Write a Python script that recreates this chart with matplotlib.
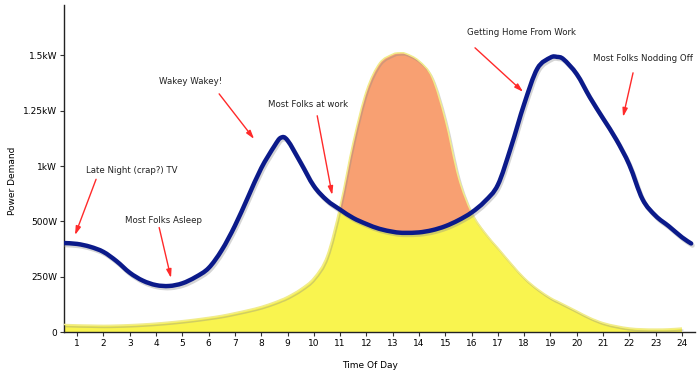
import matplotlib
matplotlib.use('Agg')
import matplotlib.pyplot as plt
import matplotlib.patheffects as pe
from matplotlib.path import Path
from matplotlib.patches import PathPatch
import numpy as np

# hour of day, shared by both series
hours = [0.5, 1, 1.5, 2, 2.5, 3, 3.5, 4, 4.5, 5, 5.5, 6, 6.5, 7, 7.5, 8, 8.5, 8.75,
         9, 9.5, 10, 10.5, 11, 11.5, 12, 12.5, 13, 13.25, 13.5, 14, 14.5, 15, 15.5,
         16, 16.5, 17, 17.5, 18, 18.5, 19, 19.25, 19.5, 20, 20.5, 21, 21.5, 22, 22.5,
         23, 23.5, 24, 24.35]

# household demand (W on the chart's own scale)
demand = [402, 398, 385, 362, 320, 268, 232, 212, 208, 220, 248, 289, 370, 480, 610,
          740, 840, 878, 866, 765, 660, 595, 553, 515, 488, 466, 453, 449, 448, 450,
          460, 478, 505, 540, 590, 665, 836, 1030, 1190, 1240, 1243, 1232, 1165, 1060,
          965, 870, 755, 600, 525, 478, 428, 400]

# generation curve
supply = [34, 32, 31, 30, 31, 33, 36, 40, 45, 51, 58, 66, 75, 87, 100, 115, 135, 147,
          160, 195, 245, 345, 570, 860, 1090, 1215, 1255, 1261, 1258, 1225, 1150, 960,
          700, 540, 450, 380, 310, 245, 195, 155, 140, 125, 95, 65, 42, 28, 18, 14, 13,
          14, 18, np.nan]

ytick_pos = [0, 250, 500, 750, 1000, 1250]
ytick_labels = ['0', '250W', '500W', '1kW', '1.25kW', '1.5kW']
xtick_labels = list(range(1, 25))

notes = ['Late Night (crap?) TV', 'Most Folks Asleep', 'Wakey Wakey!',
         'Most Folks at work', 'Getting Home From Work', 'Most Folks Nodding Off']


def smooth(x, y):
    # Catmull-Rom through the points, drawn as cubic bezier segments
    p = np.column_stack([x, y])
    ext = np.vstack([p[0], p, p[-1]])
    verts = [p[0]]
    codes = [Path.MOVETO]
    for i in range(len(p) - 1):
        p0, p1, p2, p3 = ext[i], ext[i + 1], ext[i + 2], ext[i + 3]
        verts += [p1 + (p2 - p0) / 6, p2 - (p3 - p1) / 6, p2]
        codes += [Path.CURVE4] * 3
    return verts, codes


h = np.array(hours)
d = np.array(demand, dtype=float)
s = np.array(supply, dtype=float)
ok = ~np.isnan(s)

fig = plt.figure(figsize=(7, 3.76), dpi=100)
ax = fig.add_axes([0.0914, 0.117, 0.9016, 0.87])

dv, dc = smooth(h, d)
sv, sc = smooth(h[ok], s[ok])

# area under supply curve
area_v = sv + [(h[ok][-1], 0), (h[ok][0], 0), (h[ok][0], 0)]
area_c = sc + [Path.LINETO, Path.LINETO, Path.CLOSEPOLY]
area = Path(area_v, area_c)
ax.add_patch(PathPatch(area, facecolor='#f9f44f', lw=0, zorder=1))

# part of it above demand curve
above = Path(dv + [(h[-1], 3000), (h[0], 3000), (h[0], 3000)],
             dc + [Path.LINETO, Path.LINETO, Path.CLOSEPOLY])
orange = PathPatch(area, facecolor='#f8a072', lw=0, zorder=2)
ax.add_patch(orange)
orange.set_clip_path(above, ax.transData)

shadow = [pe.SimpleLineShadow(offset=(1, -1.5), shadow_color='#888888', alpha=0.35), pe.Normal()]
ax.add_patch(PathPatch(Path(sv, sc), fill=False, edgecolor='#f1ec8c', lw=1.1, zorder=3,
                       path_effects=shadow))
ax.add_patch(PathPatch(Path(dv, dc), fill=False, edgecolor='#0b1a8a', lw=3.2,
                       capstyle='round', joinstyle='round', zorder=4, path_effects=shadow))

# annotations: text corner, arrow start, arrow tip (data coords)
spots = [((1.34, 728), (1.72, 690), (0.92, 438)),
         ((2.83, 506), (4.12, 472), (4.57, 244)),
         ((4.12, 1130), (6.40, 1076), (7.73, 872)),
         ((8.26, 1026), (10.13, 977), (10.70, 619)),
         ((15.83, 1352), (16.13, 1284), (17.96, 1085)),
         ((20.62, 1234), (22.14, 1171), (21.76, 972))]
for txt, (tpos, start, tip) in zip(notes, spots):
    ax.text(tpos[0], tpos[1], txt, fontsize=6.2, color='#222222', va='center', ha='left')
    ax.annotate('', xy=tip, xytext=start,
                arrowprops=dict(arrowstyle='-|>,head_length=0.5,head_width=0.15',
                                color='#ff2a2a', lw=1.0, shrinkA=0, shrinkB=0))

ax.set_xlim(0.5, 24.5)
ax.set_ylim(0, 1478)
ax.set_xticks(xtick_labels)
ax.set_xticklabels([str(x) for x in xtick_labels], fontsize=6.5)
ax.set_yticks(ytick_pos)
ax.set_yticklabels(ytick_labels, fontsize=6.5)
ax.tick_params(direction='out', length=3, width=0.8, color='#333333', pad=2)
for side in ['top', 'right']:
    ax.spines[side].set_visible(False)
for side in ['left', 'bottom']:
    ax.spines[side].set_color('#222222')
    ax.spines[side].set_linewidth(1.0)

fig.text(0.018, 0.52, 'Power Demand', rotation=90, fontsize=6.5, va='center', ha='center')
fig.text(0.528, 0.028, 'Time Of Day', fontsize=6.5, va='center', ha='center')

fig.savefig('out.png', dpi=100)
